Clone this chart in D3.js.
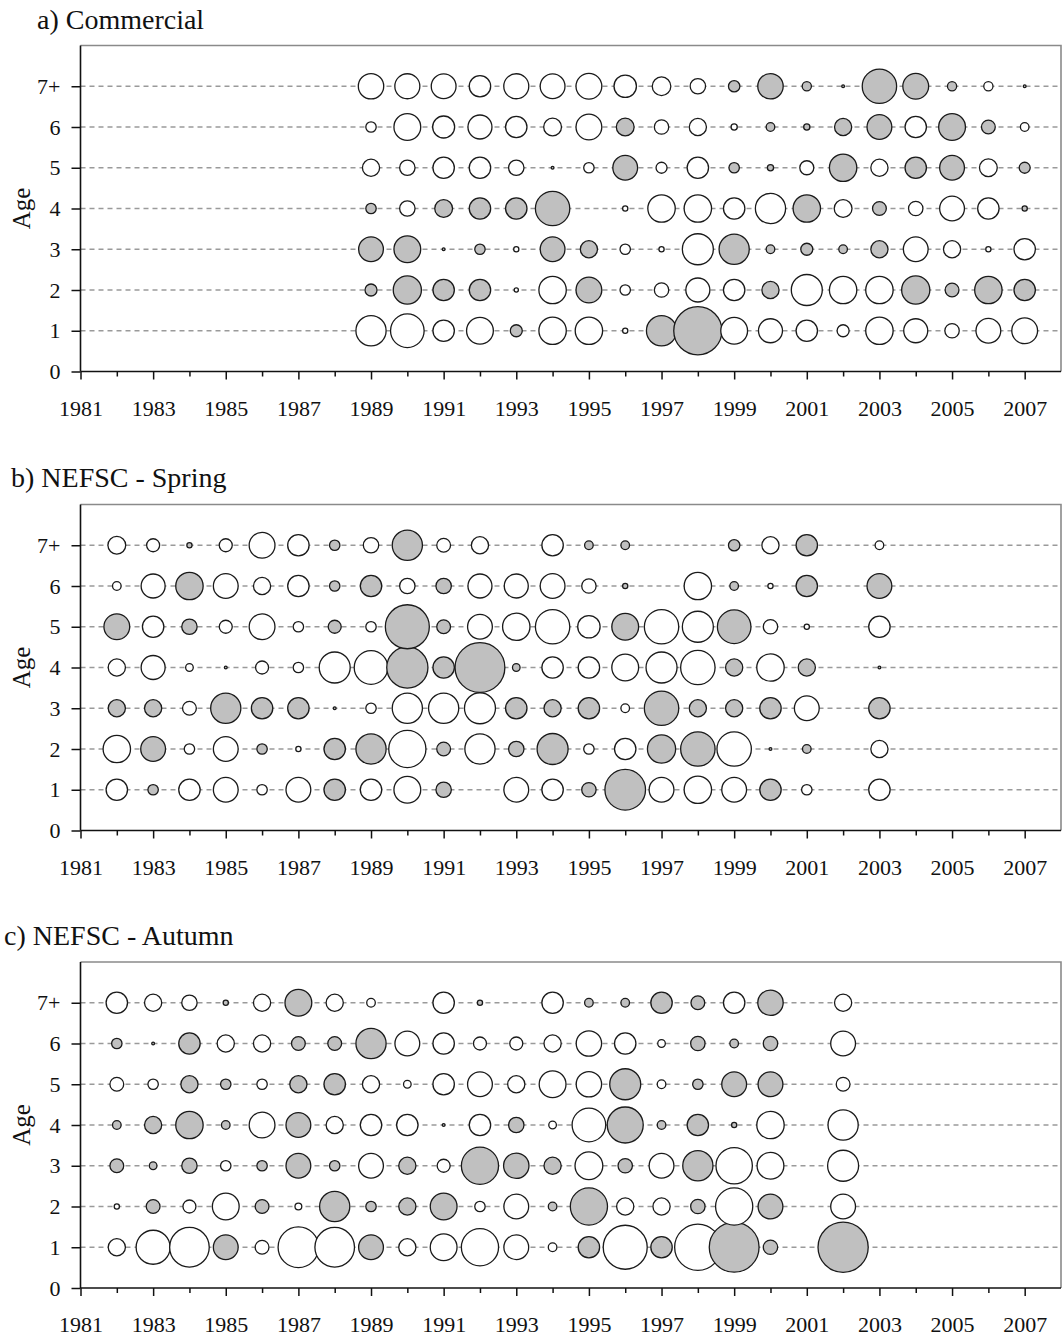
<!DOCTYPE html>
<html>
<head>
<meta charset="utf-8">
<script src="https://cdn.jsdelivr.net/npm/d3@7"></script>
<style>
  html, body { margin: 0; padding: 0; background: #fff; }
  svg { display: block; }
  text { font-family: "Liberation Serif", "Times New Roman", serif; fill: #111; }
</style>
</head>
<body>
<svg id="chart" width="1062" height="1339"></svg>
<script>
// Age classes on the y axis (index = age)
const ageLabels = ["0", "1", "2", "3", "4", "5", "6", "7+"];
// Labelled years on the x axis
const yearTicks = [1981, 1983, 1985, 1987, 1989, 1991, 1993, 1995, 1997, 1999, 2001, 2003, 2005, 2007];

// Standardised residuals: positive = open circle, negative = shaded circle.
// Each row lists one age (1 .. 7+) across the years of that series; null = no observation.

// a) Commercial catch-at-age
const commYears = [1989, 1990, 1991, 1992, 1993, 1994, 1995, 1996, 1997, 1998,
                   1999, 2000, 2001, 2002, 2003, 2004, 2005, 2006, 2007];
const commAge1 = [1.51, 1.68, 1.07, 1.34, -0.60, 1.37, 1.37, 0.26, -1.51, -2.41, 1.34, 1.20, 1.07, 0.60, 1.37, 1.20, 0.72, 1.24, 1.29];
const commAge2 = [-0.60, -1.41, -1.07, -1.07, 0.21, 1.37, -1.29, 0.52, 0.72, 1.20, 1.07, -0.86, 1.55, 1.37, 1.37, -1.41, -0.69, -1.37, -1.07];
const commAge3 = [-1.24, -1.34, -0.14, -0.52, 0.26, -1.24, -0.86, 0.52, 0.26, 1.55, -1.51, -0.43, -0.60, -0.43, -0.86, 1.24, 0.86, 0.26, 1.07];
const commAge4 = [-0.52, 0.77, -0.89, -1.07, -1.07, -1.72, null, 0.26, 1.37, 1.37, 1.07, 1.51, -1.37, 0.89, -0.69, 0.72, 1.24, 1.07, -0.26];
const commAge5 = [0.86, 0.77, 1.07, 1.07, 0.77, -0.14, 0.52, -1.24, 0.55, 1.07, -0.52, -0.31, 0.70, -1.37, 0.86, -1.07, -1.24, 0.89, -0.55];
const commAge6 = [0.52, 1.34, 1.10, 1.20, 1.07, 0.89, 1.29, -0.89, 0.72, 0.86, 0.31, -0.43, -0.31, -0.86, -1.24, 1.07, -1.34, -0.69, 0.43];
const commAge7 = [1.27, 1.25, 1.24, 1.07, 1.25, 1.24, 1.29, 1.12, 0.93, 0.77, -0.57, -1.27, -0.46, -0.14, -1.72, -1.29, -0.46, 0.46, -0.14];

// b) NEFSC spring survey
const springYears = [1982, 1983, 1984, 1985, 1986, 1987, 1988, 1989, 1990, 1991, 1992,
                     1993, 1994, 1995, 1996, 1997, 1998, 1999, 2000, 2001, 2002, 2003];
const springAge1 = [1.07, -0.52, 1.07, 1.24, 0.52, 1.24, -1.07, 1.07, 1.34, -0.77, null, 1.24, 1.07, -0.72, -2.03, 1.24, 1.37, 1.24, -1.07, 0.52, null, 1.07];
const springAge2 = [1.37, -1.24, 0.52, 1.24, -0.52, 0.26, -1.07, -1.51, 1.86, -0.69, 1.51, -0.77, -1.55, 0.52, 1.07, -1.41, -1.72, 1.72, -0.14, -0.43, null, 0.86];
const springAge3 = [-0.86, -0.86, 0.69, -1.51, -1.07, -1.07, -0.14, 0.52, 1.51, 1.51, 1.55, -1.07, -0.86, -1.07, 0.43, -1.72, -0.86, -0.86, -1.07, 1.24, null, -1.07];
const springAge4 = [0.86, 1.20, 0.38, -0.14, 0.65, 0.52, 1.55, 1.68, -2.06, -1.07, -2.49, -0.38, 1.07, 1.07, 1.34, 1.55, 1.72, -0.86, 1.37, -0.86, null, -0.14];
const springAge5 = [-1.29, 1.07, -0.77, 0.65, 1.29, 0.52, -0.65, 0.52, -2.20, -0.69, 1.24, 1.37, 1.72, 1.12, -1.34, 1.72, 1.55, -1.68, 0.72, 0.26, null, 1.07];
const springAge6 = [0.43, 1.20, -1.37, 1.24, 0.86, 1.07, -0.52, -1.07, 0.77, -0.77, 1.20, 1.20, 1.24, 0.72, -0.26, null, 1.37, -0.43, 0.26, -1.07, null, -1.24];
const springAge7 = [0.89, 0.65, -0.26, 0.65, 1.29, 1.07, -0.52, 0.77, -1.51, 0.69, 0.86, null, 1.07, -0.43, -0.43, null, null, -0.57, 0.86, -1.07, null, 0.43];

// c) NEFSC autumn survey
const autumnYears = [1982, 1983, 1984, 1985, 1986, 1987, 1988, 1989, 1990, 1991, 1992,
                     1993, 1994, 1995, 1996, 1997, 1998, 1999, 2000, 2001, 2002];
const autumnAge1 = [0.86, 1.70, 1.98, -1.24, 0.69, 2.03, 1.98, -1.24, 0.86, 1.34, 1.86, 1.24, 0.43, -1.07, 2.20, -1.07, 2.32, -2.49, -0.72, null, -2.51];
const autumnAge2 = [0.26, -0.69, 0.65, 1.34, -0.69, 0.34, -1.51, -0.52, -0.86, -1.34, 0.52, 1.24, -0.43, -1.86, 0.86, 0.86, -0.72, 1.86, -1.24, null, 1.24];
const autumnAge3 = [-0.69, -0.38, -0.77, 0.52, -0.52, -1.24, -0.52, 1.24, -0.86, 0.65, -1.86, -1.27, -0.86, 1.39, -0.72, 1.24, -1.51, 1.82, 1.34, null, 1.55];
const autumnAge4 = [-0.43, -0.86, -1.37, -0.43, 1.29, -1.24, 0.86, 1.07, 1.07, -0.14, 1.07, -0.77, 0.38, 1.68, -1.80, -0.43, -1.07, -0.26, 1.37, null, 1.51];
const autumnAge5 = [0.69, 0.52, -0.86, -0.52, 0.52, -0.86, -1.07, 0.86, 0.38, 1.07, 1.24, 0.86, 1.34, 1.27, -1.55, 0.43, -0.52, -1.24, -1.24, null, 0.69];
const autumnAge6 = [-0.52, -0.14, -1.07, 0.86, 0.86, -0.69, -0.69, -1.51, 1.24, 1.07, 0.65, 0.65, 0.86, 1.27, 1.07, 0.38, -0.72, -0.43, -0.72, null, 1.24];
const autumnAge7 = [1.07, 0.86, 0.77, -0.26, 0.86, -1.34, 0.86, 0.43, null, 1.07, -0.26, null, 1.07, -0.43, -0.43, -1.07, -0.69, 1.07, -1.27, null, 0.86];

const panels = [
  { title: "a) Commercial", years: commYears,
    rows: [commAge1, commAge2, commAge3, commAge4, commAge5, commAge6, commAge7],
    top: 45.5, titleX: 37, titleY: 29 },
  { title: "b) NEFSC - Spring", years: springYears,
    rows: [springAge1, springAge2, springAge3, springAge4, springAge5, springAge6, springAge7],
    top: 504.5, titleX: 11, titleY: 487 },
  { title: "c) NEFSC - Autumn", years: autumnYears,
    rows: [autumnAge1, autumnAge2, autumnAge3, autumnAge4, autumnAge5, autumnAge6, autumnAge7],
    top: 962, titleX: 4, titleY: 945 }
];

const svg = d3.select("#chart");
const plotLeft = 80.5, plotRight = 1061, plotHeight = 326;

const x = d3.scaleLinear().domain([1981, 2008]).range([plotLeft, plotRight]);
// bubble radius proportional to |residual|
const r = d3.scaleLinear().domain([0, 2.5]).range([0, 25]);

panels.forEach(p => {
  const bottom = p.top + plotHeight;
  const y = d3.scaleLinear().domain([0, 8]).range([bottom, p.top]);
  const g = svg.append("g");

  // panel title
  g.append("text")
    .attr("x", p.titleX).attr("y", p.titleY)
    .attr("font-size", 28)
    .text(p.title);

  // dashed guide line for each age
  g.selectAll("line.guide")
    .data(d3.range(1, 8))
    .join("line")
    .attr("class", "guide")
    .attr("x1", plotLeft).attr("x2", plotRight)
    .attr("y1", d => y(d)).attr("y2", d => y(d))
    .attr("stroke", "#9a9a9a")
    .attr("stroke-width", 1.3)
    .attr("stroke-dasharray", "5,4");

  // grey frame on top and right
  g.append("path")
    .attr("d", `M${plotLeft},${p.top}H${plotRight}V${bottom}`)
    .attr("fill", "none")
    .attr("stroke", "#8a8a8a")
    .attr("stroke-width", 1.6);

  // bubbles
  const pts = [];
  p.rows.forEach((row, i) => {
    row.forEach((v, j) => {
      if (v !== null) pts.push({ year: p.years[j], age: i + 1, v });
    });
  });
  pts.sort((a, b) => a.age - b.age || a.year - b.year);

  g.selectAll("circle")
    .data(pts)
    .join("circle")
    .attr("cx", d => x(d.year))
    .attr("cy", d => y(d.age))
    .attr("r", d => r(Math.abs(d.v)))
    .attr("fill", d => d.v >= 0 ? "#ffffff" : "#c0c0c0")
    .attr("stroke", "#1a1a1a")
    .attr("stroke-width", 1.3);

  // x axis: a tick every year, longer ticks on labelled years
  const xAxis = d3.axisBottom(x)
    .tickValues(d3.range(1981, 2008))
    .tickSize(8)
    .tickFormat(d => yearTicks.includes(d) ? String(d) : "");
  const gx = g.append("g")
    .attr("transform", `translate(0,${bottom})`)
    .call(xAxis);
  gx.select(".domain").attr("stroke", "#111").attr("stroke-width", 1.6)
    .attr("d", `M${plotLeft},0H${plotRight}`);
  gx.selectAll(".tick line")
    .attr("stroke", "#111").attr("stroke-width", 1.5)
    .attr("y2", d => yearTicks.includes(d) ? 8 : 5);
  gx.selectAll(".tick text")
    .attr("font-size", 22)
    .attr("font-family", "Liberation Serif, Times New Roman, serif")
    .attr("fill", "#111")
    .attr("y", 44).attr("dy", 0);

  // y axis: ages
  const yAxis = d3.axisLeft(y)
    .tickValues(d3.range(0, 8))
    .tickSize(9)
    .tickPadding(11)
    .tickFormat(d => ageLabels[d]);
  const gy = g.append("g")
    .attr("transform", `translate(${plotLeft},0)`)
    .call(yAxis);
  gy.select(".domain").attr("stroke", "#111").attr("stroke-width", 1.6)
    .attr("d", `M0,${p.top}V${bottom}`);
  gy.selectAll(".tick line").attr("stroke", "#111").attr("stroke-width", 1.5);
  gy.selectAll(".tick text")
    .attr("font-size", 22)
    .attr("font-family", "Liberation Serif, Times New Roman, serif")
    .attr("fill", "#111");

  // y axis title
  g.append("text")
    .attr("transform", `translate(30,${(p.top + bottom) / 2}) rotate(-90)`)
    .attr("text-anchor", "middle")
    .attr("font-size", 25)
    .text("Age");
});
</script>
</body>
</html>
